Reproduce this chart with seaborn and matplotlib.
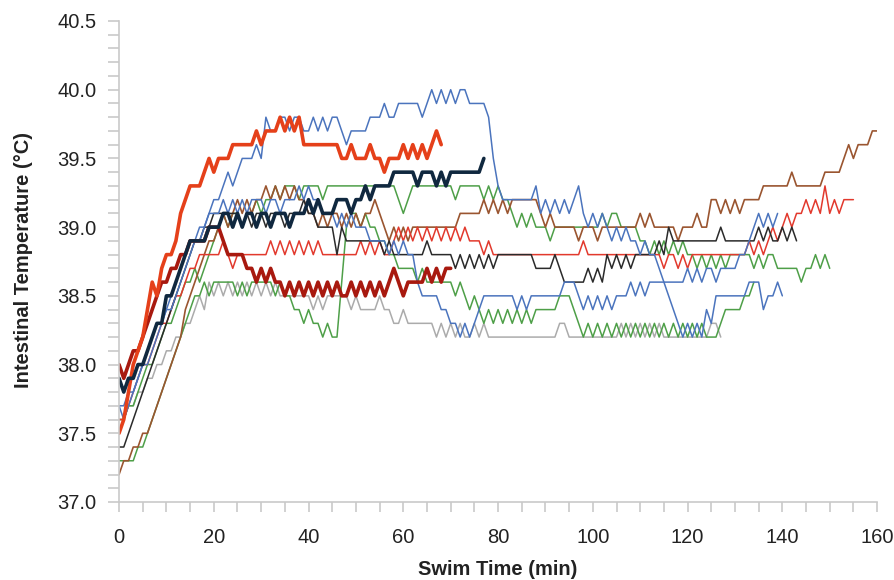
import numpy as np
import pandas as pd
import matplotlib
matplotlib.use('Agg')
import matplotlib.pyplot as plt
import seaborn as sns

# Intestinal temperature (deg C), one reading per minute of swim time
orange_thick = [37.5, 37.6, 37.8, 38.0, 38.1, 38.2, 38.4, 38.6, 38.5, 38.7,
                38.8, 38.8, 38.9, 39.1, 39.2, 39.3, 39.3, 39.3, 39.4, 39.5,
                39.4, 39.5, 39.5, 39.5, 39.6, 39.6, 39.6, 39.6, 39.6, 39.7,
                39.6, 39.7, 39.7, 39.7, 39.8, 39.7, 39.8, 39.7, 39.8, 39.6,
                39.6, 39.6, 39.6, 39.6, 39.6, 39.6, 39.6, 39.5, 39.5, 39.6,
                39.5, 39.5, 39.5, 39.6, 39.5, 39.5, 39.4, 39.5, 39.5, 39.5,
                39.6, 39.5, 39.6, 39.5, 39.6, 39.5, 39.6, 39.7, 39.6]

maroon_thick = [38.0, 37.9, 38.0, 38.1, 38.1, 38.2, 38.3, 38.4, 38.5, 38.6,
                38.6, 38.7, 38.7, 38.8, 38.8, 38.9, 38.9, 38.9, 38.9, 39.0,
                39.0, 39.0, 38.9, 38.8, 38.8, 38.8, 38.8, 38.7, 38.7, 38.6,
                38.7, 38.6, 38.7, 38.6, 38.6, 38.5, 38.6, 38.5, 38.6, 38.5,
                38.6, 38.5, 38.6, 38.5, 38.6, 38.5, 38.6, 38.5, 38.5, 38.6,
                38.5, 38.6, 38.5, 38.6, 38.5, 38.6, 38.5, 38.6, 38.7, 38.6,
                38.5, 38.6, 38.6, 38.6, 38.6, 38.7, 38.6, 38.7, 38.6, 38.7,
                38.7]

navy_thick = [37.9, 37.8, 37.9, 37.9, 38.0, 38.0, 38.1, 38.2, 38.3, 38.3,
              38.5, 38.5, 38.6, 38.7, 38.8, 38.9, 38.9, 38.9, 38.9, 39.0,
              39.0, 39.0, 39.1, 39.1, 39.0, 39.1, 39.0, 39.1, 39.1, 39.0,
              39.1, 39.1, 39.0, 39.1, 39.1, 39.1, 39.0, 39.1, 39.1, 39.1,
              39.2, 39.1, 39.2, 39.1, 39.1, 39.1, 39.2, 39.2, 39.2, 39.1,
              39.2, 39.2, 39.3, 39.2, 39.3, 39.3, 39.3, 39.3, 39.4, 39.4,
              39.4, 39.4, 39.4, 39.3, 39.4, 39.4, 39.4, 39.3, 39.4, 39.3,
              39.4, 39.4, 39.4, 39.4, 39.4, 39.4, 39.4, 39.5]

blue_a = [37.7, 37.6, 37.7, 37.8, 37.9, 38.0, 38.0, 38.1, 38.2, 38.3,
          38.4, 38.4, 38.5, 38.6, 38.7, 38.8, 38.9, 38.9, 39.0, 39.1,
          39.2, 39.2, 39.3, 39.4, 39.3, 39.4, 39.5, 39.5, 39.5, 39.6,
          39.5, 39.8, 39.7, 39.7, 39.8, 39.8, 39.7, 39.8, 39.8, 39.7,
          39.7, 39.8, 39.7, 39.8, 39.7, 39.8, 39.8, 39.7, 39.6, 39.7,
          39.7, 39.7, 39.7, 39.8, 39.8, 39.8, 39.9, 39.8, 39.8, 39.9,
          39.9, 39.9, 39.9, 39.9, 39.8, 39.9, 40.0, 39.9, 40.0, 39.9,
          40.0, 39.9, 40.0, 40.0, 39.9, 39.9, 39.9, 39.9, 39.8, 39.5,
          39.3, 39.2, 39.2, 39.2, 39.2, 39.2, 39.2, 39.2, 39.3, 39.1,
          39.2, 39.1, 39.2, 39.1, 39.2, 39.1, 39.2, 39.3, 39.1, 39.0,
          39.1, 39.0, 39.1, 39.0, 38.9, 39.0, 38.9, 39.0, 38.9, 38.9,
          38.8, 38.9, 38.8, 38.8, 38.7, 38.6, 38.5, 38.4, 38.3, 38.2,
          38.3, 38.2, 38.3, 38.2, 38.4, 38.3, 38.5, 38.5, 38.5, 38.5,
          38.5, 38.5, 38.5, 38.6, 38.6, 38.6, 38.4, 38.5, 38.5, 38.6,
          38.5]

blue_b = [37.7, 37.7, 37.8, 37.8, 37.9, 38.0, 38.1, 38.2, 38.3, 38.3,
          38.4, 38.5, 38.6, 38.7, 38.8, 38.9, 38.9, 39.0, 39.0, 39.1,
          39.1, 39.1, 39.2, 39.1, 39.2, 39.1, 39.2, 39.1, 39.2, 39.2,
          39.2, 39.1, 39.2, 39.2, 39.1, 39.2, 39.2, 39.2, 39.3, 39.2,
          39.3, 39.2, 39.2, 39.1, 39.1, 39.1, 39.0, 39.1, 39.0, 39.1,
          39.0, 39.0, 39.0, 38.9, 38.9, 38.9, 38.9, 38.8, 38.9, 38.8,
          38.9, 38.8, 38.8, 38.6, 38.5, 38.5, 38.5, 38.5, 38.4, 38.4,
          38.3, 38.3, 38.2, 38.3, 38.2, 38.3, 38.4, 38.5, 38.5, 38.5,
          38.5, 38.5, 38.5, 38.5, 38.4, 38.5, 38.4, 38.5, 38.5, 38.5,
          38.5, 38.5, 38.5, 38.5, 38.6, 38.6, 38.6, 38.5, 38.4, 38.5,
          38.4, 38.5, 38.4, 38.5, 38.4, 38.5, 38.5, 38.5, 38.6, 38.5,
          38.6, 38.5, 38.6, 38.6, 38.6, 38.6, 38.6, 38.6, 38.6, 38.6,
          38.7, 38.6, 38.7, 38.6, 38.7, 38.7, 38.6, 38.7, 38.7, 38.7,
          38.7, 38.8, 38.8, 38.9, 39.0, 39.1, 39.0, 39.1, 39.0, 39.1]

green_a = [37.6, 37.6, 37.7, 37.7, 37.8, 37.9, 38.0, 38.0, 38.1, 38.2,
           38.3, 38.3, 38.4, 38.5, 38.6, 38.6, 38.7, 38.6, 38.7, 38.8,
           38.9, 39.0, 39.1, 39.0, 39.1, 39.1, 39.0, 39.1, 39.1, 39.2,
           39.1, 39.2, 39.2, 39.3, 39.2, 39.3, 39.3, 39.3, 39.2, 39.3,
           39.3, 39.3, 39.3, 39.2, 39.3, 39.3, 39.3, 39.3, 39.3, 39.3,
           39.3, 39.3, 39.3, 39.3, 39.3, 39.3, 39.3, 39.3, 39.3, 39.2,
           39.1, 39.2, 39.3, 39.3, 39.3, 39.3, 39.3, 39.3, 39.3, 39.3,
           39.3, 39.2, 39.3, 39.3, 39.3, 39.3, 39.3, 39.2, 39.3, 39.2,
           39.3, 39.2, 39.2, 39.1, 39.0, 39.1, 39.0, 39.1, 39.0, 39.0,
           39.0, 38.9, 39.0, 39.0, 39.0, 39.0, 39.0, 39.0, 39.0, 39.0,
           39.0, 39.0, 39.1, 39.0, 39.1, 39.1, 39.0, 39.0, 39.0, 39.0,
           38.9, 38.9, 38.8, 38.9, 38.8, 38.9, 38.8, 38.9, 38.8, 38.9,
           38.8, 38.8, 38.7, 38.8, 38.7, 38.8, 38.7, 38.8, 38.7, 38.8,
           38.8, 38.8, 38.8, 38.8, 38.7, 38.8, 38.7, 38.8, 38.8, 38.7,
           38.7, 38.7, 38.7, 38.7, 38.6, 38.7, 38.7, 38.8, 38.7, 38.8,
           38.7]

green_b = [37.3, 37.3, 37.3, 37.3, 37.4, 37.4, 37.5, 37.6, 37.7, 37.8,
           37.9, 38.0, 38.1, 38.2, 38.3, 38.4, 38.5, 38.5, 38.6, 38.5,
           38.6, 38.6, 38.6, 38.6, 38.6, 38.5, 38.6, 38.5, 38.6, 38.6,
           38.6, 38.6, 38.6, 38.5, 38.6, 38.5, 38.5, 38.4, 38.4, 38.3,
           38.4, 38.3, 38.3, 38.2, 38.3, 38.2, 38.2, 38.6, 39.0, 39.1,
           39.1, 39.0, 39.1, 39.0, 39.0, 38.9, 38.9, 38.8, 38.8, 38.7,
           38.7, 38.7, 38.7, 38.6, 38.7, 38.6, 38.6, 38.6, 38.6, 38.6,
           38.6, 38.5, 38.6, 38.5, 38.4, 38.5, 38.4, 38.3, 38.4, 38.3,
           38.4, 38.3, 38.4, 38.3, 38.4, 38.3, 38.4, 38.3, 38.4, 38.4,
           38.4, 38.4, 38.4, 38.5, 38.5, 38.5, 38.4, 38.3, 38.2, 38.3,
           38.2, 38.3, 38.2, 38.3, 38.2, 38.3, 38.2, 38.3, 38.2, 38.3,
           38.2, 38.3, 38.2, 38.3, 38.2, 38.3, 38.2, 38.3, 38.2, 38.3,
           38.2, 38.3, 38.2, 38.3, 38.2, 38.2, 38.2, 38.3, 38.4, 38.4,
           38.4, 38.4, 38.5, 38.5, 38.6]

brown = [37.2, 37.3, 37.3, 37.4, 37.4, 37.5, 37.5, 37.6, 37.7, 37.8,
         37.9, 38.0, 38.1, 38.2, 38.4, 38.5, 38.6, 38.7, 38.8, 38.9,
         38.9, 39.0, 39.1, 39.0, 39.1, 39.2, 39.1, 39.2, 39.1, 39.2,
         39.2, 39.3, 39.2, 39.3, 39.2, 39.3, 39.2, 39.3, 39.2, 39.2,
         39.1, 39.1, 39.0, 39.1, 39.0, 39.1, 39.1, 39.0, 39.1, 39.0,
         39.1, 39.0, 39.1, 39.1, 39.2, 39.1, 39.0, 38.9, 39.0, 38.9,
         39.0, 38.9, 39.0, 39.0, 39.0, 39.0, 39.0, 39.0, 39.0, 39.0,
         39.0, 39.0, 39.1, 39.1, 39.1, 39.1, 39.1, 39.2, 39.1, 39.2,
         39.1, 39.2, 39.1, 39.2, 39.2, 39.2, 39.2, 39.2, 39.2, 39.1,
         39.0, 39.1, 39.0, 39.0, 39.0, 39.0, 39.0, 38.9, 39.0, 39.0,
         39.0, 38.9, 39.0, 39.0, 39.0, 39.0, 39.0, 39.0, 39.0, 39.0,
         39.1, 39.0, 39.1, 39.0, 39.0, 39.0, 39.0, 39.0, 38.9, 39.0,
         39.0, 39.0, 39.1, 39.0, 39.0, 39.2, 39.2, 39.1, 39.2, 39.1,
         39.2, 39.1, 39.2, 39.2, 39.2, 39.2, 39.3, 39.3, 39.3, 39.3,
         39.3, 39.3, 39.4, 39.3, 39.3, 39.3, 39.3, 39.3, 39.3, 39.4,
         39.4, 39.4, 39.4, 39.5, 39.6, 39.5, 39.6, 39.6, 39.6, 39.7,
         39.7]

red_thin = [37.6, 37.6, 37.7, 37.8, 37.9, 38.0, 38.0, 38.1, 38.2, 38.3,
            38.3, 38.4, 38.5, 38.5, 38.6, 38.7, 38.7, 38.8, 38.8, 38.8,
            38.8, 38.8, 38.9, 38.8, 38.7, 38.8, 38.8, 38.8, 38.8, 38.8,
            38.8, 38.8, 38.9, 38.8, 38.9, 38.8, 38.9, 38.8, 38.9, 38.8,
            38.9, 38.8, 38.9, 38.8, 38.8, 38.8, 38.8, 38.8, 38.8, 38.8,
            38.8, 38.9, 38.8, 38.9, 38.8, 38.9, 38.8, 38.8, 38.9, 39.0,
            38.9, 39.0, 38.9, 39.0, 38.9, 39.0, 38.9, 39.0, 38.9, 39.0,
            38.9, 39.0, 38.9, 39.0, 38.9, 38.9, 38.9, 38.8, 38.9, 38.8,
            38.8, 38.8, 38.8, 38.8, 38.8, 38.8, 38.8, 38.8, 38.8, 38.8,
            38.8, 38.8, 38.8, 38.8, 38.8, 38.8, 38.8, 38.8, 38.9, 38.8,
            38.8, 38.8, 38.8, 38.8, 38.8, 38.8, 38.8, 38.8, 38.8, 38.8,
            38.8, 38.8, 38.8, 38.8, 38.8, 38.7, 38.8, 38.8, 38.7, 38.8,
            38.7, 38.8, 38.8, 38.8, 38.8, 38.8, 38.8, 38.8, 38.8, 38.8,
            38.8, 38.8, 38.8, 38.9, 38.8, 38.9, 38.8, 38.9, 39.0, 38.9,
            39.0, 39.1, 39.0, 39.1, 39.1, 39.2, 39.1, 39.2, 39.1, 39.3,
            39.1, 39.2, 39.1, 39.2, 39.2, 39.2]

black_thin = [37.4, 37.4, 37.5, 37.6, 37.7, 37.8, 37.9, 38.0, 38.1, 38.2,
              38.3, 38.4, 38.5, 38.6, 38.7, 38.8, 38.9, 38.9, 39.0, 39.0,
              39.1, 39.1, 39.1, 39.1, 39.1, 39.1, 39.0, 39.1, 39.0, 39.1,
              39.1, 39.0, 39.1, 39.1, 39.1, 39.0, 39.1, 39.1, 39.1, 39.2,
              39.1, 39.1, 39.0, 39.0, 39.0, 39.0, 38.8, 39.0, 38.9, 38.9,
              38.9, 38.9, 38.9, 38.9, 38.9, 38.9, 38.8, 38.9, 38.8, 38.8,
              38.8, 38.8, 38.8, 38.8, 38.8, 38.9, 38.8, 38.8, 38.8, 38.8,
              38.8, 38.7, 38.8, 38.7, 38.8, 38.7, 38.8, 38.7, 38.8, 38.7,
              38.8, 38.8, 38.8, 38.8, 38.8, 38.8, 38.8, 38.8, 38.7, 38.7,
              38.7, 38.7, 38.8, 38.7, 38.6, 38.6, 38.6, 38.6, 38.6, 38.7,
              38.6, 38.7, 38.6, 38.8, 38.7, 38.8, 38.7, 38.8, 38.7, 38.8,
              38.8, 38.8, 38.8, 38.8, 38.9, 38.8, 39.0, 38.9, 38.9, 38.9,
              38.9, 38.9, 38.9, 38.9, 38.9, 38.9, 38.9, 39.0, 38.9, 38.9,
              38.9, 38.9, 38.9, 38.9, 38.9, 39.0, 38.9, 39.0, 38.9, 38.9,
              39.0, 38.9, 39.0, 38.9]

gray_thin = [37.6, 37.6, 37.7, 37.7, 37.8, 37.8, 37.9, 37.9, 38.0, 38.0,
             38.1, 38.1, 38.2, 38.2, 38.3, 38.3, 38.4, 38.5, 38.4, 38.6,
             38.5, 38.6, 38.5, 38.6, 38.5, 38.6, 38.5, 38.6, 38.5, 38.6,
             38.5, 38.6, 38.5, 38.6, 38.5, 38.5, 38.5, 38.5, 38.5, 38.5,
             38.5, 38.4, 38.5, 38.4, 38.5, 38.5, 38.5, 38.5, 38.5, 38.4,
             38.5, 38.4, 38.4, 38.4, 38.4, 38.5, 38.4, 38.4, 38.3, 38.3,
             38.4, 38.3, 38.3, 38.3, 38.3, 38.3, 38.3, 38.2, 38.3, 38.2,
             38.3, 38.2, 38.3, 38.2, 38.2, 38.3, 38.2, 38.3, 38.2, 38.2,
             38.2, 38.2, 38.2, 38.2, 38.2, 38.2, 38.2, 38.2, 38.2, 38.2,
             38.2, 38.2, 38.2, 38.3, 38.3, 38.2, 38.2, 38.2, 38.2, 38.2,
             38.2, 38.2, 38.2, 38.2, 38.2, 38.2, 38.3, 38.2, 38.3, 38.2,
             38.3, 38.2, 38.3, 38.2, 38.3, 38.2, 38.2, 38.2, 38.2, 38.2,
             38.2, 38.2, 38.2, 38.2, 38.2, 38.3, 38.3, 38.2]

# thin lines first, thick ones on top
series = [
    (gray_thin, '#ABABAB', 1.1),
    (green_b, '#4E9F48', 1.1),
    (green_a, '#4E9F48', 1.1),
    (brown, '#9A5530', 1.2),
    (red_thin, '#E2392D', 1.1),
    (black_thin, '#2A2A2A', 1.1),
    (blue_b, '#4B74BD', 1.1),
    (blue_a, '#4B74BD', 1.1),
    (maroon_thick, '#A8190F', 2.6),
    (orange_thick, '#E5401A', 2.6),
    (navy_thick, '#10283F', 2.6),
]

sns.set_theme(style='white')
plt.rcParams['font.family'] = ['Liberation Sans', 'DejaVu Sans']

fig = plt.figure(figsize=(8.95, 5.8), dpi=100)
ax = fig.add_axes([0.133, 0.1345, 0.847, 0.8293])

for vals, col, lw in series:
    minutes = np.arange(len(vals))
    sns.lineplot(x=minutes, y=vals, color=col, linewidth=lw, ax=ax,
                 estimator=None, legend=False)

ax.set_xlim(0, 160)
ax.set_ylim(37.0, 40.5)
ax.set_xticks(np.arange(0, 161, 20))
ax.set_xticks(np.arange(0, 161, 5), minor=True)
ax.set_yticks(np.arange(37.0, 40.51, 0.5))
ax.set_yticks(np.arange(37.0, 40.51, 0.1), minor=True)
ax.set_yticklabels([f'{v:.1f}' for v in np.arange(37.0, 40.51, 0.5)])

for side in ['top', 'right']:
    ax.spines[side].set_visible(False)
for side in ['left', 'bottom']:
    ax.spines[side].set_color('#C9C9C9')
    ax.spines[side].set_linewidth(1.2)

ax.tick_params(axis='both', which='both', color='#C9C9C9', width=1.2,
               direction='out', length=7)
ax.tick_params(axis='y', which='both', length=8)
ax.tick_params(axis='y', which='major', labelsize=14.5, pad=8, labelcolor='#222222', left=True)
ax.tick_params(axis='y', which='minor', left=True)
ax.tick_params(axis='x', which='major', labelsize=14.5, pad=12, labelcolor='#222222', bottom=True)
ax.tick_params(axis='x', which='minor', bottom=True)

ax.set_xlabel('Swim Time (min)', fontsize=14.5, fontweight='bold', color='#222222')
ax.set_ylabel('Intestinal Temperature (°C)', fontsize=14.5, fontweight='bold', color='#222222')
ax.xaxis.set_label_coords(0.5, -0.12)
ax.yaxis.set_label_coords(-0.113, 0.503)

fig.savefig('out.png', dpi=100, facecolor='white')
